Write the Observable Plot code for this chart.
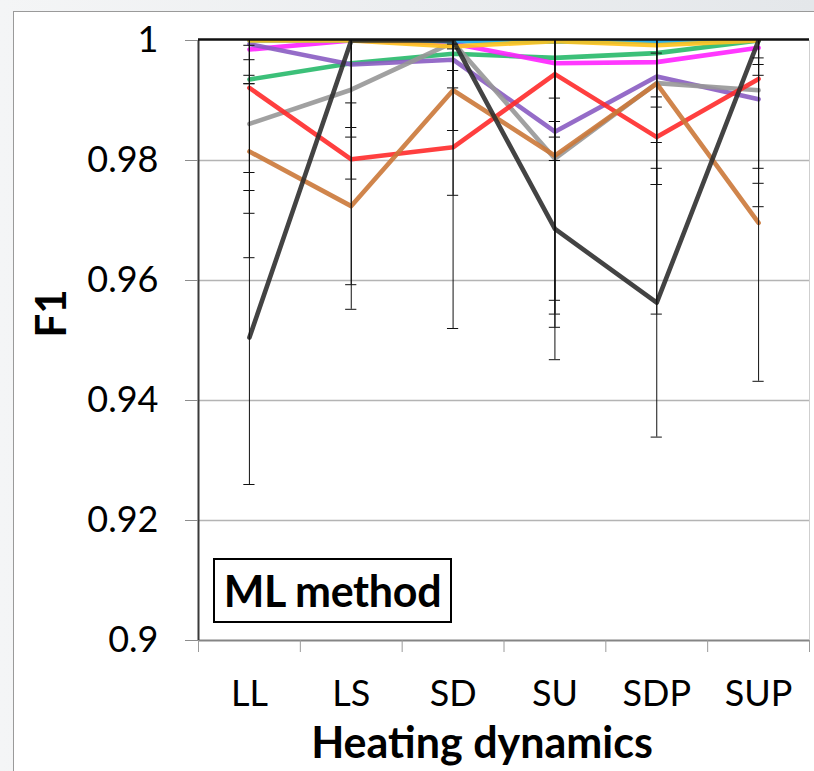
<!DOCTYPE html>
<html><head><meta charset="utf-8">
<script src="https://cdn.jsdelivr.net/npm/d3@7"></script>
<script src="https://cdn.jsdelivr.net/npm/@observablehq/plot@0.6"></script>
<style>
html,body{margin:0;padding:0;width:814px;height:771px;overflow:hidden;background:linear-gradient(90deg,#f4f5f6,#e4e7ea);font-family:Lato,sans-serif}
#panel{position:absolute;left:13px;top:11px;width:801px;height:760px;background:#fff;border-left:1px solid #9a9a9a;border-top:1px solid #9a9a9a}
#chart{position:absolute;left:0;top:0}
#badge{position:absolute;left:213px;top:558px;width:235px;height:61px;border:2px solid #000;background:#fff;font-family:Lato,sans-serif;font-weight:bold;font-size:43px;line-height:61px;text-align:center;color:#000;letter-spacing:-0.3px}
</style></head><body>
<div id="panel"></div><div id="chart"></div><div id="badge">ML method</div>
<script>
const categories = ["LL", "LS", "SD", "SU", "SDP", "SUP"];
const yTicks = [0.9, 0.92, 0.94, 0.96, 0.98, 1];

// series values (F1) per heating dynamic, and their error-bar half widths
const greenValues   = [0.9935, 0.9962, 0.9978, 0.9971, 0.9979, 1.0000];
const greenStd      = [0.0007, 0.0107, 0.0028, 0.0106, 0.0090, 0.0000];
const magentaValues = [0.9985, 1.0000, 0.9995, 0.9962, 0.9964, 0.9988];
const magentaStd    = [0.0017, 0.0000, 0.0000, 0.0123, 0.0058, 0.0017];
const purpleValues  = [0.9994, 0.9960, 0.9968, 0.9848, 0.9940, 0.9902];
const purpleStd     = [0.0066, 0.0121, 0.0047, 0.0281, 0.0110, 0.0179];
const grayValues    = [0.9861, 0.9918, 0.9997, 0.9803, 0.9929, 0.9917];
const grayStd       = [0.0149, 0.0149, 0.0147, 0.0281, 0.0169, 0.0155];
const redValues     = [0.9921, 0.9802, 0.9822, 0.9944, 0.9839, 0.9936];
const redStd        = [0.0141, 0.0209, 0.0302, 0.0144, 0.0295, 0.0149];
const orangeValues  = [0.9815, 0.9724, 0.9917, 0.9808, 0.9928, 0.9696];
const orangeStd     = [0.0177, 0.0172, 0.0175, 0.0264, 0.0168, 0.0264];
const blueValues    = [1.0000, 1.0000, 0.9999, 0.9998, 0.9998, 1.0000];
const blueStd       = [0, 0, 0, 0, 0, 0];
const yellowValues  = [1.0000, 1.0000, 0.9990, 0.9999, 0.9992, 1.0000];
const yellowStd     = [0, 0, 0.0004, 0, 0.0013, 0];
const blackValues   = [0.9505, 1.0000, 1.0000, 0.9686, 0.9563, 1.0000];
const blackStd      = [0.0245, 0, 0, 0.0218, 0.0224, 0.0058];

const series = [
  {name: "green",   color: "#27b96a", values: greenValues,   std: greenStd},
  {name: "magenta", color: "#ff22ff", values: magentaValues, std: magentaStd},
  {name: "purple",  color: "#8a5cc2", values: purpleValues,  std: purpleStd},
  {name: "gray",    color: "#979797", values: grayValues,    std: grayStd},
  {name: "red",     color: "#ff2a2a", values: redValues,     std: redStd},
  {name: "orange",  color: "#cb7838", values: orangeValues,  std: orangeStd},
  {name: "blue",    color: "#16a8e8", values: blueValues,    std: blueStd},
  {name: "yellow",  color: "#ffc21a", values: yellowValues,  std: yellowStd},
  {name: "black",   color: "#2f2f2f", values: blackValues,   std: blackStd}
];

const rows = [];
series.forEach(se => se.values.forEach((v, i) =>
  rows.push({name: se.name, color: se.color, cat: categories[i], x: i + 0.5, v, s: se.std[i]})));
const errRows = rows.filter(d => d.s > 0);
const capHalf = 0.055;

const fmt = d => String(+d.toFixed(2));

const chart = Plot.plot({
  width: 814, height: 771,
  marginLeft: 198, marginRight: 5, marginTop: 40, marginBottom: 131,
  style: {fontFamily: "Lato, sans-serif", background: "transparent", color: "#000", overflow: "visible"},
  x: {domain: [0, categories.length], axis: null},
  y: {domain: [0.9, 1], axis: null},
  color: {type: "identity"},
  marks: [
    Plot.ruleY(yTicks.filter(t => t > 0.9 && t < 1), {stroke: "#b4b4b4", strokeWidth: 1.5}),
    Plot.ruleX([categories.length], {stroke: "#cfcfcf", strokeWidth: 1}),
    Plot.line(rows, {x: "x", y: "v", z: "name", stroke: "color", strokeWidth: 4.6, strokeOpacity: 0.9, clip: true}),
    Plot.ruleX(errRows, {x: "x", y1: d => d.v - d.s, y2: d => d.v + d.s, stroke: "#111", strokeWidth: 1, clip: true}),
    Plot.ruleY(errRows, {y: d => d.v - d.s, x1: d => d.x - capHalf, x2: d => d.x + capHalf, stroke: "#111", strokeWidth: 1, clip: true}),
    Plot.ruleY(errRows, {y: d => d.v + d.s, x1: d => d.x - capHalf, x2: d => d.x + capHalf, stroke: "#111", strokeWidth: 1, clip: true}),
    Plot.ruleY([0.9], {stroke: "#858585", strokeWidth: 2}),
    Plot.ruleX([0], {stroke: "#3a3a3a", strokeWidth: 2}),
    Plot.ruleY([1], {stroke: "#111", strokeWidth: 2.5, dy: -1}),
    Plot.axisY({ticks: yTicks, tickSize: 13, tickPadding: 27, tickFormat: fmt, fontSize: 36, stroke: "#8c8c8c", label: null}),
    Plot.axisX({ticks: d3.range(categories.length + 1), tickSize: 12, tickFormat: () => "", stroke: "#9a9a9a", label: null}),
    Plot.axisX({ticks: categories.map((c, i) => i + 0.5), tickSize: 0, tickPadding: 40, tickFormat: t => categories[Math.floor(t)], fontSize: 36, label: null}),
    Plot.text(["F1"], {frameAnchor: "left", dx: -146, dy: -3, rotate: -90, fontSize: 42, fontWeight: "bold", fill: "#000"}),
    Plot.text(["Heating dynamics"], {frameAnchor: "bottom", lineAnchor: "middle", dx: -22, dy: 104, fontSize: 43, fontWeight: "bold", fill: "#000"})
  ]
});
document.getElementById("chart").appendChild(chart);
</script>
</body></html>
